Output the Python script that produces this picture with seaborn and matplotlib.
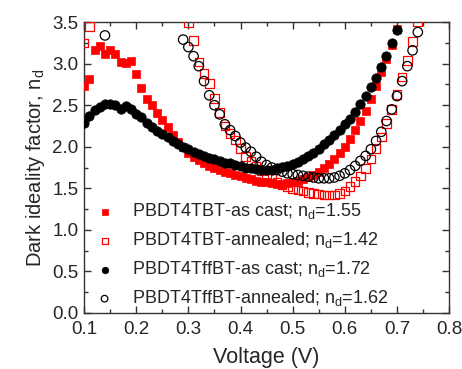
import matplotlib
import matplotlib.pyplot as plt
import numpy as np
import seaborn as sns
from matplotlib.ticker import MultipleLocator, FormatStrFormatter

matplotlib.use("Agg")

# voltage grid, 10 mV steps
v_full = np.round(np.arange(0.10, 0.705, 0.01), 2)

# PBDT4TBT as cast (filled red squares), 0.10 .. 0.70 V
tbt_cast = [2.73, 2.82, 3.17, 3.21, 3.12, 3.17, 3.12, 3.02, 3.01, 3.03,
            2.88, 2.71, 2.58, 2.50, 2.41, 2.32, 2.24, 2.14, 2.06, 2.00,
            1.93, 1.88, 1.84, 1.80, 1.77, 1.74, 1.72, 1.70, 1.68, 1.66,
            1.65, 1.62, 1.61, 1.59, 1.58, 1.57, 1.56, 1.55, 1.55, 1.56,
            1.57, 1.59, 1.61, 1.63, 1.66, 1.70, 1.74, 1.79, 1.85, 1.92,
            2.00, 2.09, 2.20, 2.31, 2.43, 2.58, 2.73, 2.90, 3.06, 3.23,
            3.42]

# PBDT4TffBT as cast (filled black circles), 0.10 .. 0.70 V
tff_cast = [2.28, 2.37, 2.44, 2.48, 2.51, 2.52, 2.50, 2.46, 2.49, 2.45,
            2.40, 2.36, 2.28, 2.24, 2.19, 2.15, 2.12, 2.07, 2.03, 2.00,
            1.97, 1.94, 1.91, 1.89, 1.87, 1.85, 1.83, 1.81, 1.80, 1.78,
            1.77, 1.75, 1.74, 1.73, 1.72, 1.72, 1.72, 1.74, 1.76, 1.77,
            1.79, 1.82, 1.85, 1.89, 1.93, 1.97, 2.03, 2.08, 2.14, 2.20,
            2.27, 2.34, 2.42, 2.51, 2.61, 2.72, 2.83, 2.96, 3.09, 3.25,
            3.41]

# PBDT4TBT annealed (open red squares)
v_tbt_ann = [0.10, 0.11,
             0.30, 0.31, 0.32, 0.33, 0.34, 0.35, 0.36, 0.37, 0.38, 0.39,
             0.40, 0.41, 0.42, 0.43, 0.44, 0.45, 0.46, 0.47, 0.48, 0.49,
             0.50, 0.51, 0.52, 0.53, 0.54, 0.55, 0.56, 0.57, 0.58, 0.59,
             0.60, 0.61, 0.62, 0.63, 0.64, 0.65, 0.66, 0.67, 0.68, 0.69,
             0.70, 0.71, 0.72, 0.73, 0.74]
tbt_ann = [3.25, 3.45,
           3.49, 3.28, 3.02, 2.88, 2.76, 2.58, 2.41, 2.25, 2.16, 2.08,
           1.98, 1.88, 1.82, 1.77, 1.71, 1.66, 1.62, 1.57, 1.54, 1.52,
           1.50, 1.48, 1.47, 1.45, 1.44, 1.43, 1.42, 1.42, 1.42, 1.44,
           1.47, 1.52, 1.58, 1.65, 1.74, 1.85, 1.98, 2.12, 2.28, 2.45,
           2.63, 2.84, 3.04, 3.27, 3.50]

# PBDT4TffBT annealed (open black circles)
v_tff_ann = [0.14,
             0.29, 0.30, 0.31, 0.32, 0.33, 0.34, 0.35, 0.36, 0.37, 0.38,
             0.39, 0.40, 0.41, 0.42, 0.43, 0.44, 0.45, 0.46, 0.47, 0.48,
             0.49, 0.50, 0.51, 0.52, 0.53, 0.54, 0.55, 0.56, 0.57, 0.58,
             0.59, 0.60, 0.61, 0.62, 0.63, 0.64, 0.65, 0.66, 0.67, 0.68,
             0.69, 0.70, 0.71, 0.72, 0.73, 0.74]
tff_ann = [3.34,
           3.29, 3.20, 3.09, 2.97, 2.79, 2.62, 2.50, 2.39, 2.27, 2.20,
           2.13, 2.05, 1.99, 1.94, 1.88, 1.82, 1.78, 1.75, 1.72, 1.70,
           1.68, 1.67, 1.66, 1.65, 1.64, 1.63, 1.62, 1.62, 1.62, 1.63,
           1.65, 1.68, 1.72, 1.77, 1.83, 1.89, 1.97, 2.07, 2.18, 2.31,
           2.45, 2.61, 2.79, 2.97, 3.16, 3.38]

labels = [
    r"PBDT4TBT-as cast; n$_\mathregular{d}$=1.55",
    r"PBDT4TBT-annealed; n$_\mathregular{d}$=1.42",
    r"PBDT4TffBT-as cast; n$_\mathregular{d}$=1.72",
    r"PBDT4TffBT-annealed; n$_\mathregular{d}$=1.62",
]

sns.set_style("white")
plt.rcParams["font.family"] = ["Liberation Sans", "DejaVu Sans"]
plt.rcParams["mathtext.fontset"] = "custom"
plt.rcParams["mathtext.rm"] = "Liberation Sans"

fig, ax = plt.subplots(figsize=(4.62, 3.69), dpi=100)
fig.subplots_adjust(left=0.182, right=0.972, bottom=0.152, top=0.940)

ms = 38
sns.scatterplot(x=v_full, y=tbt_cast, marker="s", s=ms, color="red",
                edgecolor="red", linewidth=0.5, label=labels[0], ax=ax, zorder=3)
sns.scatterplot(x=v_tbt_ann, y=tbt_ann, marker="s", s=ms, fc="none",
                ec="red", linewidth=0.9, label=labels[1], ax=ax, zorder=3)
sns.scatterplot(x=v_full, y=tff_cast, marker="o", s=ms + 8, color="black",
                edgecolor="black", linewidth=0.5, label=labels[2], ax=ax, zorder=4)
sns.scatterplot(x=v_tff_ann, y=tff_ann, marker="o", s=ms + 8, fc="none",
                ec="black", linewidth=0.9, label=labels[3], ax=ax, zorder=4)

ax.set_xlim(0.1, 0.8)
ax.set_ylim(0.0, 3.5)
ax.xaxis.set_major_locator(MultipleLocator(0.1))
ax.xaxis.set_minor_locator(MultipleLocator(0.05))
ax.yaxis.set_major_locator(MultipleLocator(0.5))
ax.yaxis.set_minor_locator(MultipleLocator(0.25))
ax.xaxis.set_major_formatter(FormatStrFormatter("%.1f"))
ax.yaxis.set_major_formatter(FormatStrFormatter("%.1f"))
ax.tick_params(which="both", direction="in", top=True, right=True,
               bottom=True, left=True, labelsize=13.5, color="#333333")
ax.tick_params(which="major", length=5, width=1)
ax.tick_params(which="minor", length=3, width=1)
ax.tick_params(axis="x", which="major", pad=6)
ax.tick_params(axis="y", which="major", pad=4)
for s in ax.spines.values():
    s.set_color("#333333")
    s.set_linewidth(1)

ax.set_xlabel("Voltage (V)", fontsize=15.5, labelpad=6)
ax.set_ylabel(r"Dark ideality factor, n$_\mathregular{d}$", fontsize=14.5, labelpad=4)

ax.legend(loc="lower left", bbox_to_anchor=(-0.028, -0.028), frameon=False,
          fontsize=13, markerscale=0.7, handletextpad=0.5, labelspacing=0.5,
          borderaxespad=0.3)

fig.savefig("out.png", dpi=100)
